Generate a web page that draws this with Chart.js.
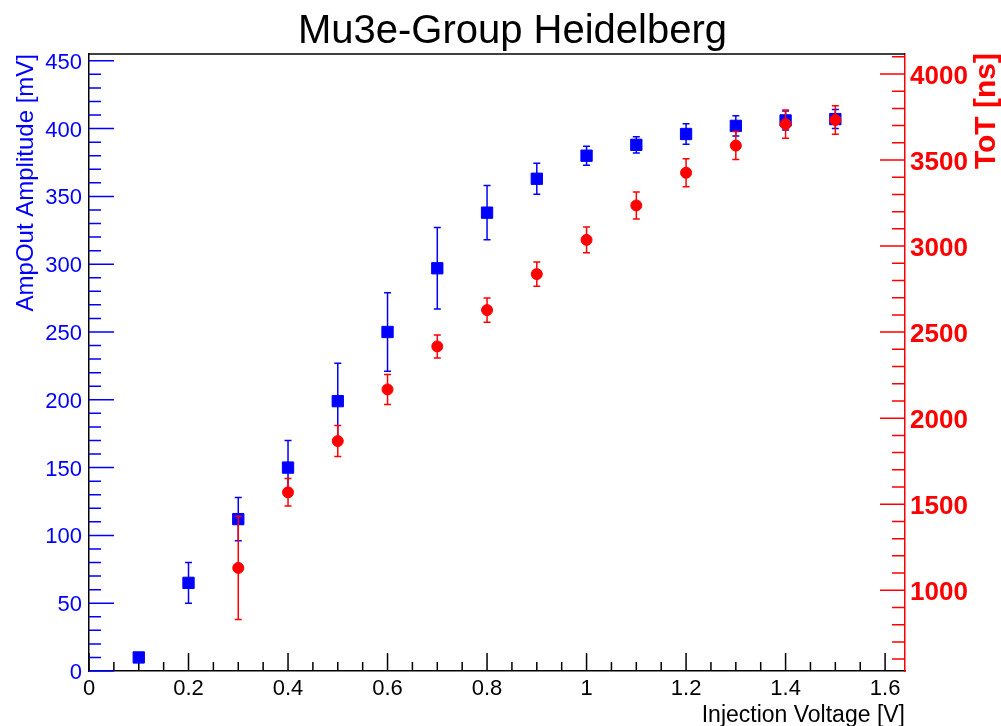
<!DOCTYPE html>
<html lang="en">
<head>
<meta charset="UTF-8">
<title>Mu3e-Group Heidelberg</title>
<script src="https://cdn.jsdelivr.net/npm/chart.js"></script>
<style>
  body { margin: 0; background: #fff; }
  canvas { display: block; }
</style>
</head>
<body>
<canvas id="chart" width="1001" height="726"></canvas>
<script>
// injection voltage [V]
const voltage = [0.1, 0.2, 0.3, 0.4, 0.5, 0.6, 0.7, 0.8, 0.9, 1.0, 1.1, 1.2, 1.3, 1.4, 1.5];
// AmpOut amplitude [mV] with errors
const ampOut    = [10, 65, 112, 150, 199, 250, 297, 338, 363, 380, 388, 396, 402, 406, 407];
const ampOutErr = [2, 15, 16, 20, 28, 29, 30, 20, 11.5, 7, 6, 7.5, 7.5, 7, 7];
// time over threshold [ns] with errors, nothing measured below 0.3 V
const tot    = [null, null, 1130, 1569, 1867, 2167, 2417, 2628, 2837, 3036, 3236, 3426, 3584, 3708, 3733];
const totErr = [null, null, 300, 80, 90, 87, 67, 70, 70, 75, 78, 81, 81, 82, 83];

// labelled ticks
const xTickValues   = [0, 0.2, 0.4, 0.6, 0.8, 1, 1.2, 1.4, 1.6];
const ampTickValues = [0, 50, 100, 150, 200, 250, 300, 350, 400, 450];
const totTickValues = [1000, 1500, 2000, 2500, 3000, 3500, 4000];

const BLUE = '#0000ff';
const RED = '#ff0000';
const FONT = '"Liberation Sans", Arial, Helvetica, sans-serif';

function points(ys) {
    return voltage.map((x, i) => ({ x: x, y: ys[i] }));
}

// ROOT style error bars with small end caps, drawn just under each dataset's markers
const errorBars = {
    id: 'errorBars',
    beforeDatasetDraw(chart, args) {
        const ds = chart.data.datasets[args.index];
        if (!ds.errors) return;
        const xs = chart.scales[args.meta.xAxisID];
        const ys = chart.scales[args.meta.yAxisID];
        const ctx = chart.ctx;
        ctx.save();
        ctx.strokeStyle = ds.borderColor;
        ctx.lineWidth = 1.5;
        ds.data.forEach((p, i) => {
            const e = ds.errors[i];
            if (p.y == null || !e) return;
            const x = xs.getPixelForValue(p.x);
            const top = ys.getPixelForValue(p.y + e);
            const bot = ys.getPixelForValue(p.y - e);
            ctx.beginPath();
            ctx.moveTo(x, top); ctx.lineTo(x, bot);
            ctx.moveTo(x - 3.5, top); ctx.lineTo(x + 3.5, top);
            ctx.moveTo(x - 3.5, bot); ctx.lineTo(x + 3.5, bot);
            ctx.stroke();
        });
        ctx.restore();
    }
};

// tick marks pointing into the frame, major + minor
function drawTicks(ctx, scale, major, minor, majorLen, minorLen, color, side) {
    const area = scale.chart.chartArea;
    ctx.save();
    ctx.strokeStyle = color;
    ctx.lineWidth = 1.5;
    ctx.beginPath();
    for (let i = Math.ceil(scale.min / minor - 1e-9); i * minor <= scale.max + 1e-9; i++) {
        const v = i * minor;
        const r = v / major;
        const len = Math.abs(r - Math.round(r)) < 1e-6 ? majorLen : minorLen;
        const p = scale.getPixelForValue(v);
        if (side === 'bottom') {
            ctx.moveTo(p, area.bottom); ctx.lineTo(p, area.bottom - len);
        } else if (side === 'left') {
            ctx.moveTo(area.left, p); ctx.lineTo(area.left + len, p);
        } else {
            ctx.moveTo(area.right, p); ctx.lineTo(area.right - len, p);
        }
    }
    ctx.stroke();
    ctx.restore();
}

const frame = {
    id: 'frame',
    beforeDatasetsDraw(chart) {
        const ctx = chart.ctx;
        const a = chart.chartArea;
        drawTicks(ctx, chart.scales.x, 0.2, 0.05, 18, 9, '#000', 'bottom');
        drawTicks(ctx, chart.scales.yAmp, 50, 10, 25, 12, BLUE, 'left');
        drawTicks(ctx, chart.scales.yTot, 500, 100, 25, 13, RED, 'right');
        ctx.save();
        ctx.strokeStyle = '#000';
        ctx.lineWidth = 1.5;
        ctx.beginPath();
        ctx.moveTo(a.left, a.top);
        ctx.lineTo(a.right, a.top);
        ctx.stroke();
        ctx.restore();
    },
    afterDraw(chart) {
        const ctx = chart.ctx;
        ctx.save();
        // title
        ctx.fillStyle = '#000';
        ctx.font = '40px ' + FONT;
        ctx.textAlign = 'center';
        ctx.textBaseline = 'alphabetic';
        ctx.fillText('Mu3e-Group Heidelberg', 512.5, 43);
        // right axis title, rotated the same way as the left one
        ctx.fillStyle = RED;
        ctx.font = 'bold 30px ' + FONT;
        ctx.translate(995, chart.chartArea.top - 1);
        ctx.rotate(-Math.PI / 2);
        ctx.textAlign = 'right';
        ctx.fillText('ToT [ns]', 0, 0);
        ctx.restore();
    }
};

new Chart(document.getElementById('chart'), {
    type: 'scatter',
    data: {
        datasets: [{
            label: 'AmpOut Amplitude',
            data: points(ampOut),
            errors: ampOutErr,
            yAxisID: 'yAmp',
            order: 2,
            borderColor: BLUE,
            backgroundColor: BLUE,
            pointStyle: 'rect',
            pointRadius: 8,
            pointBorderWidth: 1
        }, {
            label: 'ToT',
            data: points(tot),
            errors: totErr,
            yAxisID: 'yTot',
            order: 1,
            borderColor: RED,
            backgroundColor: RED,
            pointStyle: 'circle',
            pointRadius: 5.5,
            pointBorderWidth: 1
        }]
    },
    options: {
        responsive: false,
        animation: false,
        events: [],
        layout: { padding: { top: 54 } },
        plugins: {
            legend: { display: false },
            tooltip: { enabled: false },
            title: { display: false }
        },
        scales: {
            x: {
                type: 'linear',
                position: 'bottom',
                min: 0,
                max: 1.64,
                grid: { display: false, drawTicks: false },
                border: { display: true, color: '#000', width: 1.5 },
                ticks: {
                    color: '#000',
                    font: { family: FONT, size: 22 },
                    padding: 5,
                    autoSkip: false,
                    maxRotation: 0,
                    callback: v => String(v)
                },
                afterBuildTicks: s => { s.ticks = xTickValues.map(v => ({ value: v })); },
                title: {
                    display: true,
                    text: 'Injection Voltage [V]',
                    align: 'end',
                    color: '#000',
                    font: { family: FONT, size: 23 },
                    padding: { top: 0, bottom: -3 }
                },
                afterFit: s => { s.height = 55; }
            },
            yAmp: {
                type: 'linear',
                position: 'left',
                min: 0,
                max: 455,
                grid: { display: false, drawTicks: false },
                border: { display: true, color: '#000', width: 1.5 },
                ticks: {
                    color: BLUE,
                    font: { family: FONT, size: 22 },
                    padding: 7,
                    labelOffset: 2,
                    autoSkip: false,
                    callback: v => String(v)
                },
                afterBuildTicks: s => { s.ticks = ampTickValues.map(v => ({ value: v })); },
                title: {
                    display: true,
                    text: 'AmpOut Amplitude [mV]',
                    align: 'end',
                    color: BLUE,
                    font: { family: FONT, size: 24 },
                    padding: { top: 12, bottom: 0 }
                },
                afterFit: s => { s.width = 89; }
            },
            yTot: {
                type: 'linear',
                position: 'right',
                min: 531,
                max: 4116,
                grid: { display: false, drawTicks: false },
                border: { display: true, color: RED, width: 1.5 },
                ticks: {
                    color: RED,
                    font: { family: FONT, size: 26, weight: 'bold' },
                    padding: 5,
                    labelOffset: 3,
                    autoSkip: false,
                    callback: v => String(v)
                },
                afterBuildTicks: s => { s.ticks = totTickValues.map(v => ({ value: v })); },
                afterFit: s => { s.width = 96; }
            }
        }
    },
    plugins: [errorBars, frame]
});
</script>
</body>
</html>
